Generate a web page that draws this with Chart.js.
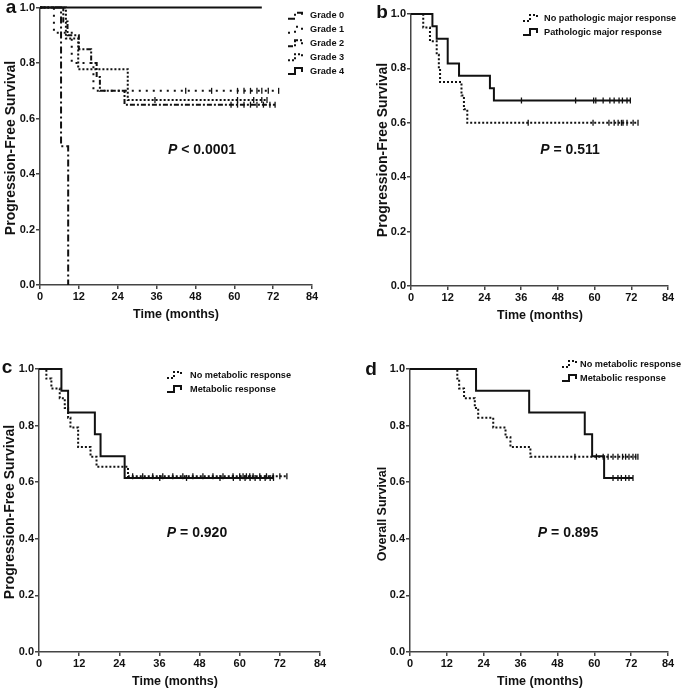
<!DOCTYPE html>
<html>
<head>
<meta charset="utf-8">
<script src="https://cdn.jsdelivr.net/npm/chart.js@4.4.1/dist/chart.umd.min.js"></script>
<style>
  body { margin: 0; background: #fff; }
  .wrap { position: relative; width: 685px; height: 693px; overflow: hidden; }
  canvas { position: absolute; }
</style>
</head>
<body>
<div class="wrap">
  <canvas id="panelA" style="left:0;top:0" width="360" height="330"></canvas>
  <canvas id="panelB" style="left:342px;top:0" width="343" height="330"></canvas>
  <canvas id="panelC" style="left:0;top:340px" width="342" height="353"></canvas>
  <canvas id="panelD" style="left:342px;top:340px" width="343" height="353"></canvas>
</div>
<script>
// ---- data (months / survival fraction) ----
const monthTicks = [0, 12, 24, 36, 48, 60, 72, 84];
const survTicks = [0.0, 0.2, 0.4, 0.6, 0.8, 1.0];

// a: PFS by grade
const gradeNames = ['Grade 0', 'Grade 1', 'Grade 2', 'Grade 3', 'Grade 4'];
const g0Time = [0, 6.5, 8.7];
const g0Surv = [1, 0.5, 0];
const g1Time = [0, 4.3, 9.8, 16.5, 73.7];
const g1Surv = [1, 0.909, 0.8, 0.7, 0.7];
const g1Cens = [45, 53, 61, 63, 65, 67, 68.5, 70.5, 73.7];
const g2Time = [0, 7.2, 8.5, 12, 15.8, 17.5, 18.5, 26.1, 72.6];
const g2Surv = [1, 0.95, 0.9, 0.85, 0.8, 0.75, 0.7, 0.65, 0.65];
const g2Cens = [59, 61, 63, 65, 67, 69, 71, 72.6];
const g3Time = [0, 8, 11.8, 27.1, 70.1];
const g3Surv = [1, 0.889, 0.778, 0.667, 0.667];
const g3Cens = [35.5, 61, 66, 68.5, 70.1];
const g4Time = [0, 68.5];
const g4Surv = [1, 1];

// b: PFS by pathologic response
const pathNames = ['No pathologic major response', 'Pathologic major response'];
const noPmrTime = [0, 4.0, 6.2, 8.4, 9.1, 9.5, 16.5, 17.3, 18.4, 74.2];
const noPmrSurv = [1, 0.95, 0.9, 0.85, 0.8, 0.75, 0.7, 0.65, 0.6, 0.6];
const noPmrCens = [38.3, 59.5, 64.7, 66.4, 67.7, 68.8, 69.3, 70.6, 72.6, 74.2];
const pmrTime = [0, 7.0, 8.4, 12.0, 15.7, 25.8, 27.1, 71.7];
const pmrSurv = [1, 0.955, 0.909, 0.818, 0.773, 0.727, 0.682, 0.682];
const pmrCens = [36.1, 53.8, 59.7, 60.4, 62.8, 65, 66.4, 68, 69.1, 70.6, 71.7];

// c: PFS by metabolic response
const metaNames = ['No metabolic response', 'Metabolic response'];
const noMrPfsTime = [0, 2.2, 3.7, 6.2, 7.7, 8.7, 9.4, 11.7, 15.4, 17.2, 26.6, 74.1];
const noMrPfsSurv = [1, 0.966, 0.931, 0.897, 0.862, 0.828, 0.793, 0.724, 0.69, 0.655, 0.621, 0.621];
const noMrPfsCens = [28, 31, 34, 37, 40, 43, 46, 49, 52, 55, 58, 60, 61, 62, 63, 64, 66, 68, 70, 72, 74.1];
const mrPfsTime = [0, 6.7, 8.7, 16.7, 18.4, 25.6, 70.1];
const mrPfsSurv = [1, 0.923, 0.846, 0.769, 0.692, 0.615, 0.615];
const mrPfsCens = [36.1, 44.1, 54.1, 58.1, 60.1, 61.6, 63.1, 64.6, 66.1, 67.6, 69.1, 70.1];

// d: OS by metabolic response
const noMrOsTime = [0, 15.4, 16.0, 17.6, 21.1, 22.2, 27.1, 31.1, 32.7, 39.2, 74.2];
const noMrOsSurv = [1, 0.966, 0.931, 0.897, 0.862, 0.828, 0.793, 0.759, 0.724, 0.69, 0.69];
const noMrOsCens = [53.7, 60.7, 62.9, 64.5, 66.1, 67.7, 69.2, 70.2, 71.3, 72.6, 73.5, 74.2];
const mrOsTime = [0, 21.5, 38.8, 56.9, 59.3, 63.2, 72.6];
const mrOsSurv = [1, 0.923, 0.846, 0.769, 0.692, 0.615, 0.615];
const mrOsCens = [66.1, 67.7, 68.8, 70.2, 71.3, 72.6];

// ---- styling helpers ----
const FONT = "Arial, 'Liberation Sans', sans-serif";
const INK = '#111';
const AXIS = '#444';
const SOLID = [];
const DOTS = [2, 2];

function stepAt(times, survs, t) {
  let s = survs[0];
  for (let i = 0; i < times.length; i++) if (times[i] <= t) s = survs[i];
  return s;
}

function curve(label, times, survs, dash) {
  return {
    type: 'line', label,
    data: times.map((t, i) => ({ x: t, y: survs[i] })),
    stepped: true, borderColor: INK, borderWidth: 2, borderDash: dash,
    pointRadius: 0, fill: false, clip: false, isCurve: true
  };
}

function censor(times, survs, cens) {
  return {
    type: 'line', label: '', showLine: false, clip: false,
    data: cens.map(t => ({ x: t, y: stepAt(times, survs, t) })),
    pointStyle: 'line', pointRotation: 90, pointRadius: 3,
    pointBorderColor: INK, pointBorderWidth: 1.3
  };
}

const panelText = {
  id: 'panelText',
  afterDraw(chart, args, o) {
    const ctx = chart.ctx;
    ctx.save();
    ctx.fillStyle = INK;
    ctx.textAlign = 'center';

    // panel letter
    ctx.font = 'bold 19px ' + FONT;
    ctx.textBaseline = 'alphabetic';
    ctx.fillText(o.letter, o.letterX, o.letterY);

    // y title
    ctx.save();
    ctx.translate(o.yTitleX, o.yTitleY);
    ctx.rotate(-Math.PI / 2);
    ctx.font = 'bold ' + o.yTitleSize + 'px ' + FONT;
    ctx.textBaseline = 'middle';
    ctx.fillText(o.yTitle, 0, 0);
    ctx.restore();

    // x title
    ctx.font = 'bold 12.5px ' + FONT;
    ctx.textBaseline = 'middle';
    ctx.fillText('Time (months)', o.xTitleX, o.xTitleY);

    // P value
    ctx.font = 'italic bold 14px ' + FONT;
    const wP = ctx.measureText('P').width;
    ctx.font = 'bold 14px ' + FONT;
    const wRest = ctx.measureText(o.pText).width;
    const x0 = o.pX - (wP + wRest) / 2;
    ctx.textAlign = 'left';
    ctx.font = 'italic bold 14px ' + FONT;
    ctx.fillText('P', x0, o.pY);
    ctx.font = 'bold 14px ' + FONT;
    ctx.fillText(o.pText, x0 + wP, o.pY);

    // legend
    const curves = chart.data.datasets.filter(d => d.isCurve);
    ctx.font = 'bold 9.2px ' + FONT;
    ctx.textBaseline = 'middle';
    o.legendRows.forEach((ry, i) => {
      const ds = curves[i];
      const sx = o.legendX;
      ctx.save();
      ctx.strokeStyle = INK;
      ctx.lineWidth = 2;
      ctx.setLineDash(ds.borderDash);
      ctx.beginPath();
      ctx.moveTo(sx, ry + 3);
      ctx.lineTo(sx + 7, ry + 3);
      ctx.lineTo(sx + 7, ry - 3);
      ctx.lineTo(sx + 14, ry - 3);
      ctx.lineTo(sx + 14, ry + 1);
      ctx.stroke();
      ctx.restore();
      ctx.fillText(ds.label, o.legendTextX, ry);
    });
    ctx.restore();
  }
};

function makePanel(id, datasets, box, text) {
  new Chart(document.getElementById(id), {
    type: 'line',
    data: { datasets },
    plugins: [panelText],
    options: {
      responsive: false,
      animation: false,
      events: [],
      layout: { padding: { left: 0, top: box.top, right: box.right, bottom: 0 } },
      plugins: { legend: { display: false }, tooltip: { enabled: false }, panelText: text },
      scales: {
        x: {
          type: 'linear', min: monthTicks[0], max: monthTicks[monthTicks.length - 1],
          afterBuildTicks: s => { s.ticks = monthTicks.map(v => ({ value: v })); },
          afterFit: s => { s.height = box.xAxisH; },
          ticks: { color: INK, font: { family: FONT, size: 11, weight: 'bold' }, padding: 1, maxRotation: 0 },
          grid: { display: true, drawOnChartArea: false, drawTicks: true, tickLength: 4, color: AXIS, lineWidth: 1.5 },
          border: { display: true, color: AXIS, width: 1.5 }
        },
        y: {
          type: 'linear', min: 0, max: 1,
          afterBuildTicks: s => { s.ticks = survTicks.map(v => ({ value: v })); },
          afterFit: s => { s.width = box.yAxisW; },
          ticks: { color: INK, font: { family: FONT, size: 11, weight: 'bold' }, padding: 1, callback: v => v.toFixed(1) },
          grid: { display: true, drawOnChartArea: false, drawTicks: true, tickLength: 4, color: AXIS, lineWidth: 1.5 },
          border: { display: true, color: AXIS, width: 1.5 }
        }
      }
    }
  });
}

// panel a
makePanel('panelA', [
  curve(gradeNames[0], g0Time, g0Surv, [7, 3, 2, 3]),
  curve(gradeNames[1], g1Time, g1Surv, [2, 5]),
  curve(gradeNames[2], g2Time, g2Surv, [5, 2, 2, 2]),
  curve(gradeNames[3], g3Time, g3Surv, DOTS),
  curve(gradeNames[4], g4Time, g4Surv, SOLID),
  censor(g1Time, g1Surv, g1Cens),
  censor(g2Time, g2Surv, g2Cens),
  censor(g3Time, g3Surv, g3Cens)
], { top: 6, right: 48, xAxisH: 45, yAxisW: 40 }, {
  letter: 'a', letterX: 11, letterY: 13,
  yTitle: 'Progression-Free Survival', yTitleSize: 14, yTitleX: 11, yTitleY: 148,
  xTitleX: 176, xTitleY: 315,
  pText: ' < 0.0001', pX: 202, pY: 150,
  legendX: 288, legendTextX: 310, legendRows: [15.7, 29.7, 43.3, 57.3, 71]
});

// panel b
makePanel('panelB', [
  curve(pathNames[0], noPmrTime, noPmrSurv, DOTS),
  curve(pathNames[1], pmrTime, pmrSurv, SOLID),
  censor(noPmrTime, noPmrSurv, noPmrCens),
  censor(pmrTime, pmrSurv, pmrCens)
], { top: 14, right: 17, xAxisH: 44, yAxisW: 69 }, {
  letter: 'b', letterX: 40, letterY: 18,
  yTitle: 'Progression-Free Survival', yTitleSize: 14, yTitleX: 41, yTitleY: 150,
  xTitleX: 198, xTitleY: 316,
  pText: ' = 0.511', pX: 228, pY: 150,
  legendX: 181, legendTextX: 202, legendRows: [18, 32]
});

// panel c
makePanel('panelC', [
  curve(metaNames[0], noMrPfsTime, noMrPfsSurv, DOTS),
  curve(metaNames[1], mrPfsTime, mrPfsSurv, SOLID),
  censor(noMrPfsTime, noMrPfsSurv, noMrPfsCens),
  censor(mrPfsTime, mrPfsSurv, mrPfsCens)
], { top: 29, right: 22, xAxisH: 41, yAxisW: 39 }, {
  letter: 'c', letterX: 7, letterY: 33,
  yTitle: 'Progression-Free Survival', yTitleSize: 14, yTitleX: 10, yTitleY: 172,
  xTitleX: 175, xTitleY: 342,
  pText: ' = 0.920', pX: 197, pY: 193,
  legendX: 167, legendTextX: 190, legendRows: [35, 49]
});

// panel d
makePanel('panelD', [
  curve(metaNames[0], noMrOsTime, noMrOsSurv, DOTS),
  curve(metaNames[1], mrOsTime, mrOsSurv, SOLID),
  censor(noMrOsTime, noMrOsSurv, noMrOsCens),
  censor(mrOsTime, mrOsSurv, mrOsCens)
], { top: 29, right: 17, xAxisH: 41, yAxisW: 68 }, {
  letter: 'd', letterX: 29, letterY: 35,
  yTitle: 'Overall Survival', yTitleSize: 12.5, yTitleX: 41, yTitleY: 174,
  xTitleX: 198, xTitleY: 342,
  pText: ' = 0.895', pX: 226, pY: 193,
  legendX: 220, legendTextX: 238, legendRows: [24, 38]
});
</script>
</body>
</html>
